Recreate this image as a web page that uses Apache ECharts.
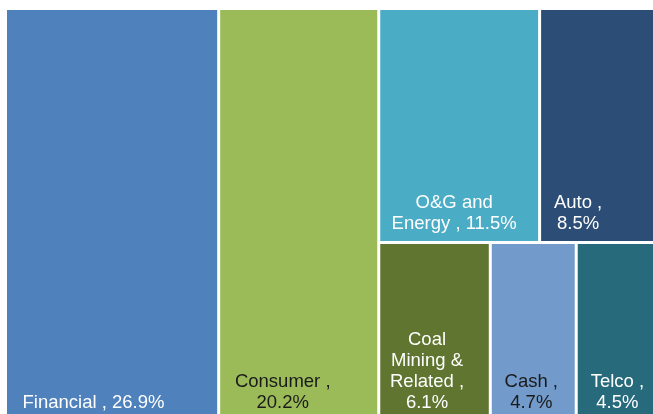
<!DOCTYPE html>
<html><head><meta charset="utf-8">
<script src="https://cdn.jsdelivr.net/npm/echarts@6/dist/echarts.min.js"></script>
<style>html,body{margin:0;padding:0;background:#fff}#chart{width:653px;height:414px}</style>
</head><body><div id="chart"></div>
<script>
const categories = ['Financial', 'Consumer', 'O&G and Energy', 'Auto', 'Coal Mining & Related', 'Cash', 'Telco'];
const shares = [26.9, 20.2, 11.5, 8.5, 6.1, 4.7, 4.5];
const labelLines = [['Financial , {v}'], ['Consumer ,', '{v}'], ['O&G and', 'Energy , {v}'], ['Auto ,', '{v}'], ['Coal', 'Mining &', 'Related ,', '{v}'], ['Cash ,', '{v}'], ['Telco ,', '{v}']];
// grouping (indices into categories) that steers ECharts' squarified layout
const grouping = [[0, 1], [[2, 3], [4, [5, 6]]]];
const colors = ['#4F81BD', '#9BBB59', '#4BACC6', '#2C4D75', '#5F7530', '#729ACA', '#276A7C'];
const textColors = ['#ffffff', '#1a1a1a', '#ffffff', '#ffffff', '#ffffff', '#1a1a1a', '#ffffff'];
const labelShift = [-18.6, -16, -5, -21, -7.5, -2, 0];

function leaf(i) {
  return {
    name: categories[i],
    value: shares[i],
    itemStyle: { color: colors[i] },
    label: {
      color: textColors[i],
      offset: [labelShift[i], 0],
      formatter: labelLines[i].map(s => s.replace('{v}', shares[i].toFixed(1) + '%')).join('\n')
    }
  };
}
function build(node, key) {
  if (typeof node === 'number') return leaf(node);
  return { name: 'group' + key, children: node.map((c, j) => build(c, key + '_' + j)) };
}
const data = grouping.map((g, j) => build(g, '' + j));

const chart = echarts.init(document.getElementById('chart'), null, { renderer: 'canvas' });
chart.setOption({
  animation: false,
  series: [{
    type: 'treemap',
    left: 7, top: 10, width: 650, height: 410,
    squareRatio: 1.335,
    sort: false,
    roam: false,
    nodeClick: false,
    visibleMin: 0,
    breadcrumb: { show: false },
    itemStyle: { borderWidth: 0, gapWidth: 3, borderColor: '#ffffff' },
    upperLabel: { show: false },
    label: {
      show: true,
      position: 'insideBottom',
      distance: 6,
      padding: 0,
      fontSize: 18.5,
      lineHeight: 21.2,
      fontFamily: 'Liberation Sans, Arial, sans-serif',
      overflow: 'none'
    },
    emphasis: { disabled: true },
    data: data
  }]
});
</script>
</body></html>
